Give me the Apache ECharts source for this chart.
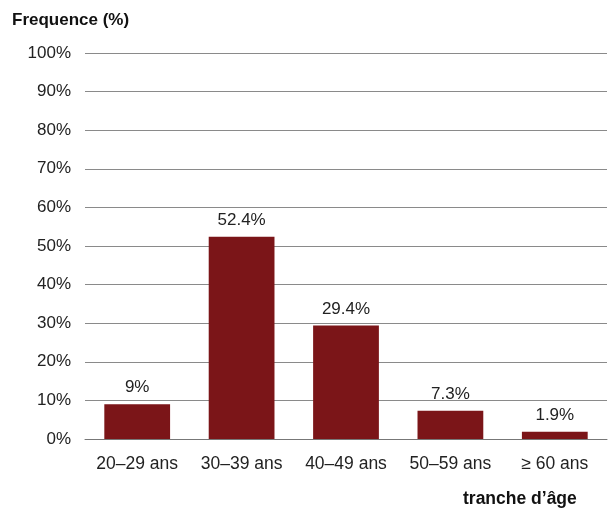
<!DOCTYPE html>
<html><head><meta charset="utf-8">
<script src="https://cdn.jsdelivr.net/npm/echarts@6/dist/echarts.min.js"></script>
<style>html,body{margin:0;padding:0;background:#fff}#c{width:609px;height:511px}</style>
</head><body><div id="c"></div>
<script>
const categories = ['20–29 ans','30–39 ans','40–49 ans','50–59 ans','≥ 60 ans'];
const values = [9, 52.4, 29.4, 7.3, 1.9];
const valueLabels = ['9%','52.4%','29.4%','7.3%','1.9%'];
const font = '"Liberation Sans", Arial, sans-serif';
const chart = echarts.init(document.getElementById('c'));
chart.setOption({
  animation:false,
  grid:{left:85,right:2,top:53,bottom:72,containLabel:false},
  graphic:[
    {type:'text',left:12,top:12,style:{text:'Frequence (%)',font:'bold 17px '+font,fill:'#111'}},
    {type:'text',left:463,top:490,style:{text:'tranche d’âge',font:'bold 17.5px '+font,fill:'#111'}}
  ],
  xAxis:{type:'category',data:categories,
    axisLine:{lineStyle:{color:'#777',width:1}},axisTick:{show:false},
    axisLabel:{interval:0,hideOverlap:false,color:'#222',fontSize:17.5,fontFamily:font,margin:16}},
  yAxis:{type:'value',min:0,max:100,interval:10,
    axisLabel:{formatter:'{value}%',color:'#222',fontSize:17,fontFamily:font,margin:14},
    splitLine:{lineStyle:{color:'#8a8a8a',width:1}},axisLine:{show:false},axisTick:{show:false}},
  series:[{type:'bar',data:values,barWidth:'63%',itemStyle:{color:'#7b1518'},
    label:{show:true,position:'top',distance:8,color:'#222',fontSize:17,fontFamily:font,
      formatter:p=>valueLabels[p.dataIndex]}}]
});
</script></body></html>
